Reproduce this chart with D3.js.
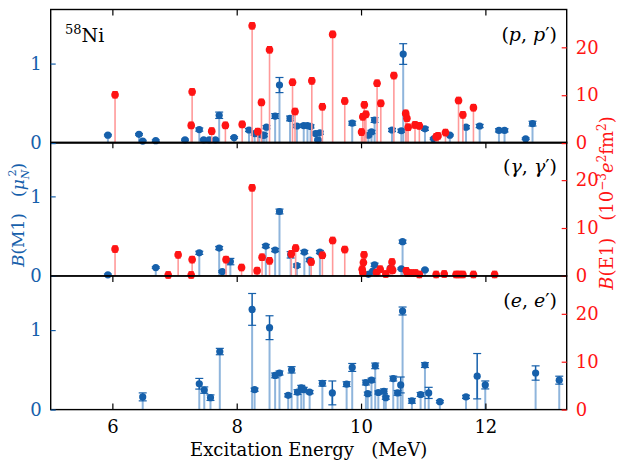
<!DOCTYPE html>
<html><head><meta charset="utf-8">
<script src="https://cdn.jsdelivr.net/npm/d3@7"></script>
<style>body{margin:0;background:#fff}svg{display:block}</style>
</head><body><svg id="c" width="619" height="461"></svg>
<script>
// ---------- data ----------
const xTicks = [6, 8, 10, 12];
const m1Ticks = [0, 1];
const e1Ticks = [0, 10, 20];
const panelVars = ["p", "γ", "e"];

// (p,p') panel
const ppM1E = [5.92,6.42,6.48,6.69,7.16,7.39,7.46,7.55,7.65,7.71,7.95,8.19,8.28,8.35,8.41,8.43,8.47,8.61,8.68,8.85,8.96,9.07,9.13,9.18,9.26,9.30,9.33,9.85,10.11,10.16,10.21,10.49,10.64,10.67,11.02,11.16,11.42,11.68,11.90,12.21,12.30,12.64,12.75];
const ppM1 = [0.10,0.11,0.025,0.03,0.04,0.17,0.04,0.04,0.04,0.35,0.07,0.165,0.12,0.11,0.10,0.10,0.20,0.34,0.73,0.31,0.215,0.22,0.22,0.21,0.12,0.04,0.13,0.25,0.10,0.14,0.29,0.165,0.155,1.12,0.18,0.055,0.10,0.20,0.215,0.16,0.16,0.055,0.245];
const ppM1Err = [0.01,0.01,0.01,0.01,0.01,0.02,0.01,0.01,0.01,0.04,0.01,0.02,0.02,0.02,0.02,0.02,0.02,0.03,0.095,0.03,0.02,0.02,0.02,0.02,0.02,0.01,0.02,0.025,0.02,0.02,0.03,0.02,0.02,0.13,0.02,0.01,0.01,0.02,0.02,0.02,0.02,0.01,0.03];
const ppE1E = [6.035,7.26,7.275,7.59,7.81,8.08,8.24,8.33,8.39,8.52,8.89,8.93,9.20,9.37,9.535,9.73,10.00,10.02,10.045,10.07,10.25,10.31,10.52,10.71,10.73,10.75,10.86,10.93,11.20,11.23,11.35,11.56,11.63,11.80];
const ppE1 = [10.1,3.7,10.7,2.5,3.7,3.9,24.5,2.4,8.5,19.5,12.7,6.6,13.0,7.6,22.7,8.8,2.3,5.5,8.0,6.0,12.5,8.3,14.1,6.2,5.2,3.3,3.8,3.6,1.3,1.5,2.2,8.9,5.9,7.4];

// (γ,γ') panel
const ggM1E = [5.92,6.69,7.39,7.71,7.76,7.89,8.46,8.61,8.68,8.86,8.96,9.08,9.165,9.33,10.11,10.18,10.21,10.47,10.64,10.66,11.02];
const ggM1 = [0.013,0.105,0.29,0.35,0.055,0.18,0.375,0.325,0.81,0.265,0.13,0.30,0.2,0.30,0.02,0.06,0.14,0.1,0.09,0.43,0.075];
const ggM1Err = [0.01,0.01,0.02,0.02,0.01,0.04,0.02,0.02,0.03,0.04,0.02,0.02,0.02,0.02,0.01,0.01,0.02,0.01,0.01,0.02,0.01];
const ggE1E = [6.035,6.89,7.05,7.26,7.275,7.82,8.07,8.24,8.32,8.40,8.52,8.87,8.94,9.19,9.37,9.535,9.73,10.01,10.02,10.03,10.04,10.24,10.30,10.39,10.46,10.49,10.50,10.72,10.74,10.80,10.87,10.93,11.20,11.33,11.52,11.57,11.63,11.80,12.14];
const ggE1 = [5.6,0.2,4.4,0.2,3.4,3.4,1.75,18.4,1.1,3.9,3.15,4.6,5.8,2.9,4.3,7.4,5.5,1.4,0.7,2.8,4.4,0.7,1.4,0.4,1.4,2.9,1.2,1.05,0.6,0.6,0.6,0.3,0.3,0.4,0.3,0.3,0.3,0.3,0.3];

// (e,e') panel
const eeM1E = [6.48,7.39,7.47,7.57,7.72,8.24,8.28,8.52,8.61,8.68,8.82,8.875,8.97,9.03,9.07,9.165,9.37,9.53,9.76,9.85,10.07,10.10,10.16,10.22,10.27,10.36,10.39,10.51,10.58,10.63,10.66,10.81,10.95,11.02,11.08,11.26,11.68,11.86,11.99,12.80,13.18];
const eeM1 = [0.16,0.325,0.245,0.15,0.73,1.26,0.25,1.03,0.43,0.46,0.18,0.50,0.22,0.275,0.25,0.22,0.33,0.21,0.32,0.53,0.34,0.2,0.37,0.55,0.215,0.23,0.15,0.39,0.21,0.31,1.24,0.11,0.19,0.56,0.21,0.10,0.16,0.42,0.31,0.46,0.37];
const eeM1Err = [0.05,0.067,0.04,0.035,0.04,0.2,0.02,0.15,0.03,0.025,0.02,0.04,0.03,0.03,0.03,0.02,0.035,0.15,0.03,0.05,0.03,0.02,0.025,0.035,0.02,0.03,0.02,0.03,0.03,0.1,0.05,0.03,0.025,0.03,0.07,0.015,0.02,0.285,0.05,0.09,0.05];
const eeE1E = [];
const eeE1 = [];

// ---------- layout / style ----------
const BLUE = "#1660ab", BLUE_L = "#8fb5dc", RED = "#ff1414", RED_L = "#ff9a9a";
const FONT = "DejaVu Serif";
const L = 50.7, R = 566.7;
const tops = [9.5, 142.3, 276], H = 133.6;

const panels = [
  {m1E: ppM1E, m1: ppM1, m1Err: ppM1Err, e1E: ppE1E, e1: ppE1},
  {m1E: ggM1E, m1: ggM1, m1Err: ggM1Err, e1E: ggE1E, e1: ggE1},
  {m1E: eeM1E, m1: eeM1, m1Err: eeM1Err, e1E: eeE1E, e1: eeE1}
];

const svg = d3.select("#c");
svg.append("rect").attr("width", 619).attr("height", 461).attr("fill", "#fff");
const x = d3.scaleLinear().domain([5, 13.3]).range([L, R]);

panels.forEach((p, i) => {
  const top = tops[i], bot = top + H;
  const yL = d3.scaleLinear().domain([0, 1.68]).range([bot, top]);
  const yR = d3.scaleLinear().domain([0, 27.9]).range([bot, top]);
  const g = svg.append("g");

  // M1 stems
  const m1 = p.m1E.map((e, k) => ({e, v: p.m1[k], err: p.m1Err[k] || 0}));
  g.selectAll(".bs").data(m1).join("line")
    .attr("x1", d => x(d.e)).attr("x2", d => x(d.e))
    .attr("y1", yL(0)).attr("y2", d => yL(d.v))
    .attr("stroke", BLUE_L).attr("stroke-width", 2);
  // error bars
  g.selectAll(".be").data(m1).join("line")
    .attr("x1", d => x(d.e)).attr("x2", d => x(d.e))
    .attr("y1", d => yL(Math.max(0, d.v - d.err))).attr("y2", d => yL(d.v + d.err))
    .attr("stroke", BLUE).attr("stroke-width", 1.5);
  [-1, 1].forEach(s => {
    g.selectAll(".bc" + s).data(m1).join("line")
      .attr("x1", d => x(d.e) - 4).attr("x2", d => x(d.e) + 4)
      .attr("y1", d => yL(Math.max(0, d.v + s * d.err))).attr("y2", d => yL(Math.max(0, d.v + s * d.err)))
      .attr("stroke", BLUE).attr("stroke-width", 1.2);
  });
  g.selectAll(".bm").data(m1).join("circle")
    .attr("cx", d => x(d.e)).attr("cy", d => yL(d.v)).attr("r", 3.6)
    .attr("fill", BLUE);

  // E1
  const e1 = p.e1E.map((e, k) => ({e, v: p.e1[k]}));
  g.selectAll(".rs").data(e1).join("line")
    .attr("x1", d => x(d.e)).attr("x2", d => x(d.e))
    .attr("y1", yR(0)).attr("y2", d => yR(d.v))
    .attr("stroke", RED_L).attr("stroke-width", 1.6);
  [-1, 1].forEach(s => {
    g.selectAll(".rc" + s).data(e1).join("line")
      .attr("x1", d => x(d.e) - 2.6).attr("x2", d => x(d.e) + 2.6)
      .attr("y1", d => yR(d.v) + s * 3.2).attr("y2", d => yR(d.v) + s * 3.2)
      .attr("stroke", RED).attr("stroke-width", 1.1);
  });
  g.selectAll(".rm").data(e1).join("circle")
    .attr("cx", d => x(d.e)).attr("cy", d => yR(d.v)).attr("r", 3.8)
    .attr("fill", RED);

  // frame
  g.append("rect").attr("x", L).attr("y", top).attr("width", R - L).attr("height", H)
    .attr("fill", "none").attr("stroke", "#000").attr("stroke-width", 1.4);

  // x ticks (inward from top; bottom panel also from bottom)
  xTicks.forEach(t => {
    g.append("line").attr("x1", x(t)).attr("x2", x(t)).attr("y1", top).attr("y2", top + 6)
      .attr("stroke", "#000").attr("stroke-width", 1.2);
    if (i === 2) g.append("line").attr("x1", x(t)).attr("x2", x(t)).attr("y1", bot).attr("y2", bot - 6)
      .attr("stroke", "#000").attr("stroke-width", 1.2);
  });

  // left axis
  const la = d3.axisLeft(yL).tickValues(m1Ticks).tickSizeInner(-5).tickSizeOuter(0).tickPadding(9).tickFormat(d3.format("d"));
  const lg = g.append("g").attr("transform", `translate(${L},0)`).call(la);
  lg.select(".domain").remove();
  lg.selectAll("line").attr("stroke", BLUE).attr("stroke-width", 1.2);
  lg.selectAll("text").attr("fill", BLUE).attr("font-family", FONT).attr("font-size", 18);

  // right axis
  const ra = d3.axisRight(yR).tickValues(e1Ticks).tickSizeInner(-5).tickSizeOuter(0).tickPadding(9).tickFormat(d3.format("d"));
  const rg = g.append("g").attr("transform", `translate(${R},0)`).call(ra);
  rg.select(".domain").remove();
  rg.selectAll("line").attr("stroke", RED).attr("stroke-width", 1.2);
  rg.selectAll("text").attr("fill", RED).attr("font-family", FONT).attr("font-size", 18);

  // panel label
  const v = panelVars[i];
  const t = g.append("text").attr("x", 557).attr("y", top + 31).attr("text-anchor", "end")
    .attr("font-family", FONT).attr("font-size", 19).attr("fill", "#000");
  t.append("tspan").text("(");
  t.append("tspan").attr("font-style", "italic").text(v);
  t.append("tspan").text(", ");
  t.append("tspan").attr("font-style", "italic").text(v);
  t.append("tspan").text("′)");
});

// x axis tick labels
svg.append("g").selectAll("text").data(xTicks).join("text")
  .attr("x", d => x(d)).attr("y", 433).attr("text-anchor", "middle")
  .attr("font-family", FONT).attr("font-size", 18).text(d => d);
svg.append("text").attr("x", (L + R) / 2).attr("y", 456).attr("text-anchor", "middle")
  .attr("font-family", FONT).attr("font-size", 18).attr("xml:space", "preserve")
  .text("Excitation Energy   (MeV)");

// 58Ni
const ni = svg.append("text").attr("x", 65).attr("y", 42).attr("font-family", FONT).attr("font-size", 19);
ni.append("tspan").attr("font-size", 13).attr("dy", -8).text("58");
ni.append("tspan").attr("dy", 8).text("Ni");

// left label
const ll = svg.append("text").attr("transform", "translate(24,215) rotate(-90)")
  .attr("text-anchor", "middle").attr("font-family", FONT).attr("font-size", 17).attr("fill", BLUE)
  .attr("xml:space", "preserve");
ll.append("tspan").attr("font-style", "italic").text("B");
ll.append("tspan").text("(M1)   (");
ll.append("tspan").attr("font-style", "italic").text("μ");
ll.append("tspan").attr("font-size", 11).attr("font-style", "italic").attr("dy", 5).text("N");
ll.append("tspan").attr("font-size", 11).attr("dy", -13).attr("dx", -7).text("2");
ll.append("tspan").attr("dy", 8).text(")");

// right label
const rl = svg.append("text").attr("transform", "translate(613,203) rotate(-90)")
  .attr("text-anchor", "middle").attr("font-family", FONT).attr("font-size", 18).attr("fill", RED)
  .attr("xml:space", "preserve");
rl.append("tspan").attr("font-style", "italic").text("B");
rl.append("tspan").text("(E1)   (10");
rl.append("tspan").attr("font-size", 12).attr("dy", -7).text("−3");
rl.append("tspan").attr("font-style", "italic").attr("dy", 7).text("e");
rl.append("tspan").attr("font-size", 12).attr("dy", -7).text("2");
rl.append("tspan").attr("dy", 7).text("fm");
rl.append("tspan").attr("font-size", 12).attr("dy", -7).text("2");
rl.append("tspan").attr("dy", 7).text(")");
</script>
</body></html>
